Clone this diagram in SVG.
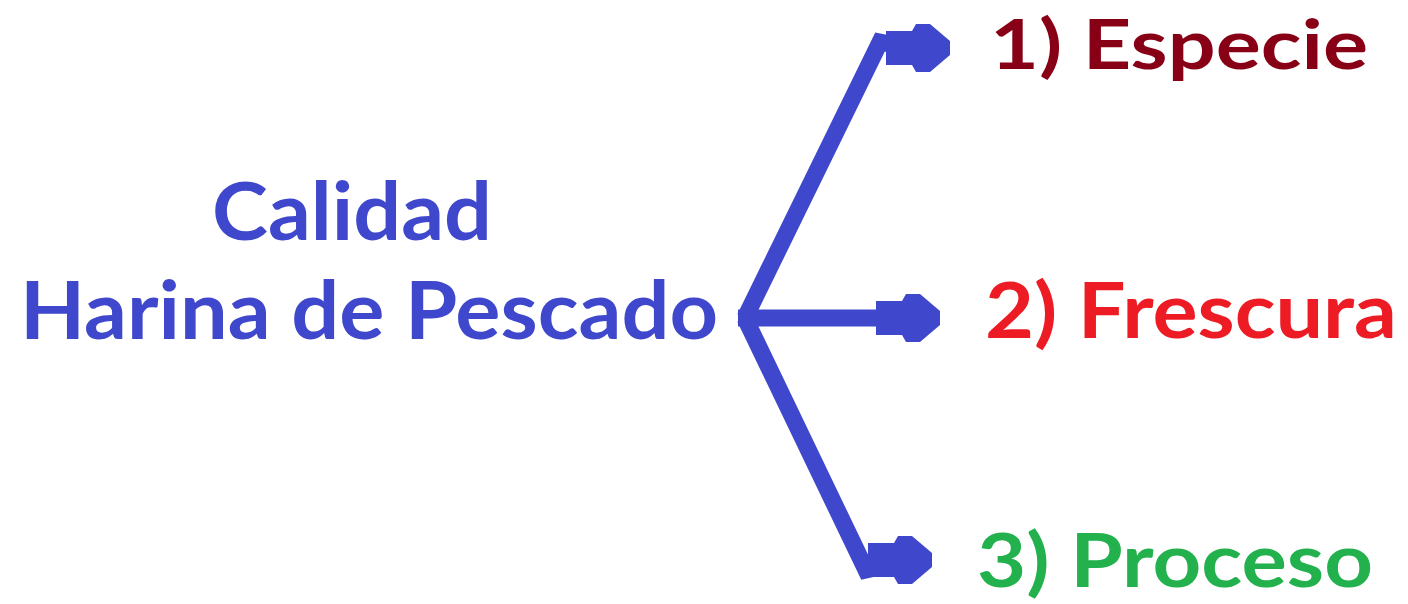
<svg xmlns="http://www.w3.org/2000/svg" xmlns:xlink="http://www.w3.org/1999/xlink" width="1408" height="604" viewBox="0 0 1408 604">
<style>
.t{font-family:Lato,"Open Sans","Liberation Sans",sans-serif;font-weight:700}
.c{fill:none;stroke:#3F48CC;stroke-width:17;stroke-linejoin:miter;stroke-linecap:butt}
.h{fill:#3F48CC}
</style>
<defs>
<path id="head" d="M0,-17 H26 L30,-24 H44 L64,-7 V7 L44,24 H30 L26,17 H0 Z"/>
</defs>
<rect width="1408" height="604" fill="#fff"/>
<g id="root">
<text class="t" x="212" y="240" font-size="80" fill="#3F48CC" textLength="280" lengthAdjust="spacingAndGlyphs">Calidad</text>
<text class="t" x="20" y="339" font-size="80" fill="#3F48CC" textLength="698" lengthAdjust="spacingAndGlyphs">Harina de Pescado</text>
</g>
<g id="connectors">
<polyline class="c" points="745,318 880,42 890,44"/>
<line class="c" x1="738" y1="318" x2="880" y2="318"/>
<polyline class="c" points="745,318 866,570 875,568"/>
<use xlink:href="#head" class="h" transform="translate(886,48)"/>
<use xlink:href="#head" class="h" transform="translate(876,318)"/>
<use xlink:href="#head" class="h" transform="translate(868,560)"/>
</g>
<g id="n1">
<text class="t" x="990" y="69" font-size="68" fill="#880015" textLength="378" lengthAdjust="spacingAndGlyphs">1) Especie</text>
</g>
<g id="n2">
<text class="t" x="985" y="338" font-size="77" fill="#ED1C24" textLength="412" lengthAdjust="spacingAndGlyphs">2) Frescura</text>
</g>
<g id="n3">
<text class="t" x="977" y="587" font-size="74" fill="#22B14C" textLength="396" lengthAdjust="spacingAndGlyphs">3) Proceso</text>
</g>
</svg>
